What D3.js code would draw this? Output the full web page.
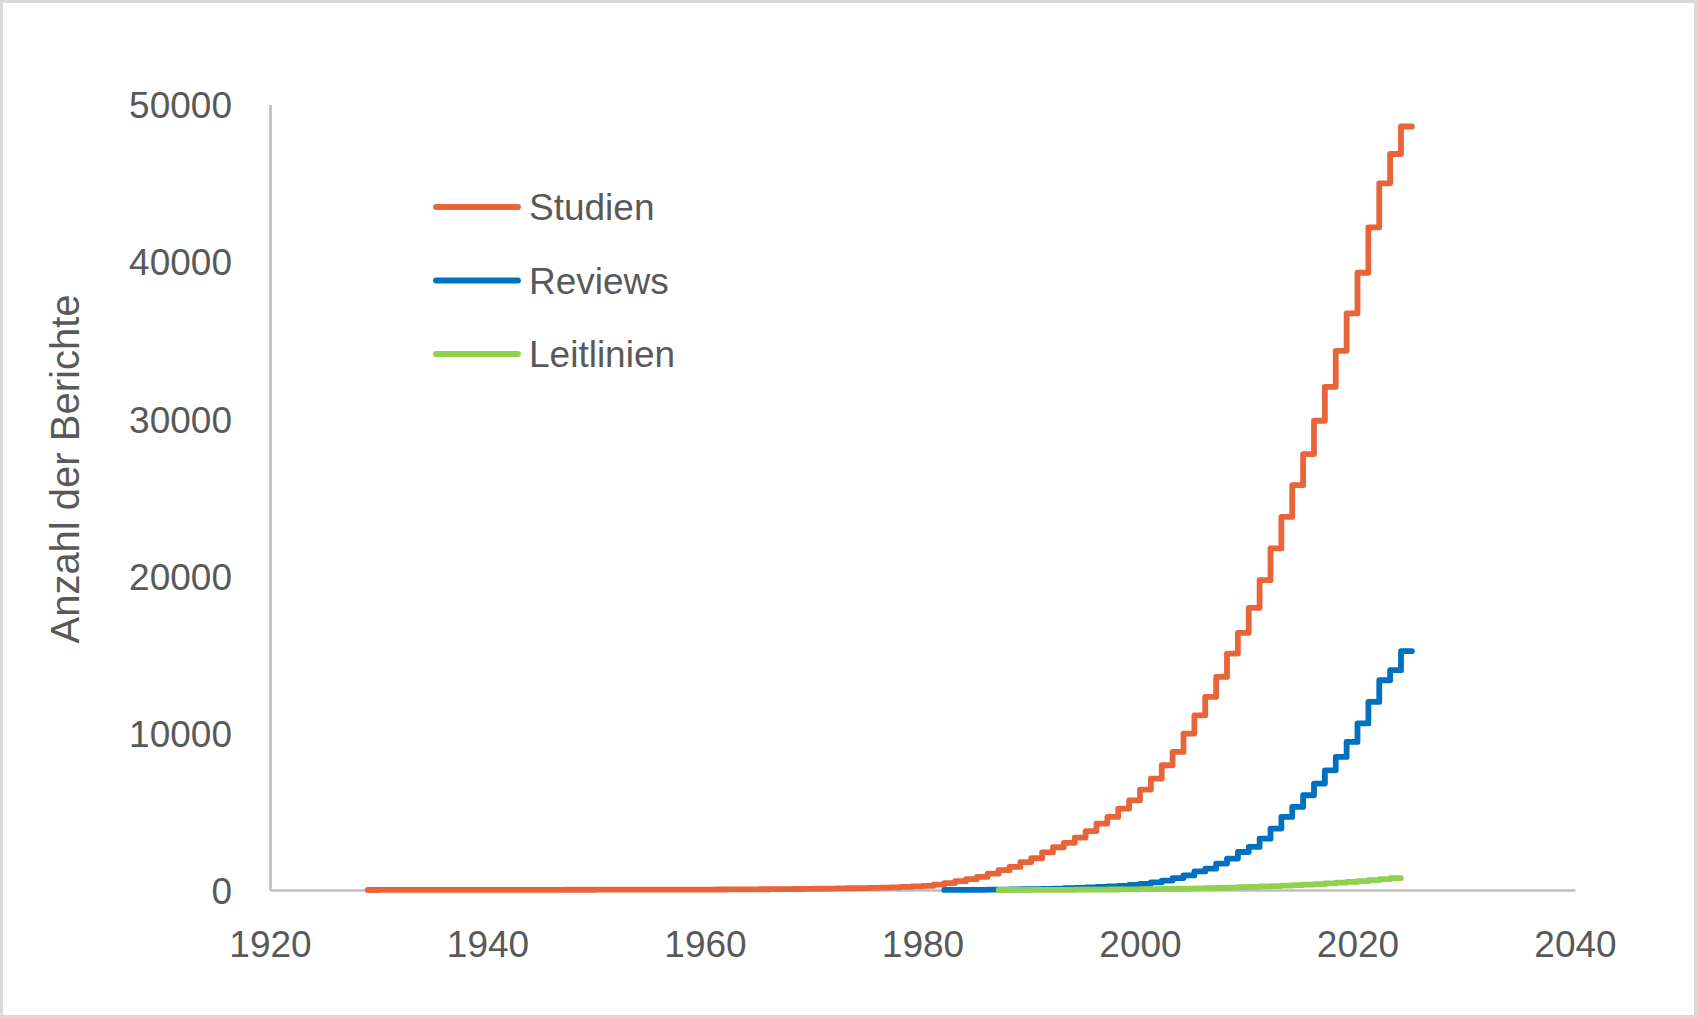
<!DOCTYPE html>
<html>
<head>
<meta charset="utf-8">
<script src="https://cdn.jsdelivr.net/npm/d3@7"></script>
<style>
  html, body { margin: 0; padding: 0; background: #fff; }
  svg { display: block; }
  text { font-family: "Liberation Sans", Arial, sans-serif; fill: #595959; }
</style>
</head>
<body>
<svg id="chart" width="1697" height="1018"></svg>
<script>
// ---- Data (cumulative number of reports per year) ----
const studienYears = [1929,1930,1931,1932,1933,1934,1935,1936,1937,1938,1939,
  1940,1941,1942,1943,1944,1945,1946,1947,1948,1949,
  1950,1951,1952,1953,1954,1955,1956,1957,1958,1959,
  1960,1961,1962,1963,1964,1965,1966,1967,1968,1969,
  1970,1971,1972,1973,1974,1975,1976,1977,1978,1979,
  1980,1981,1982,1983,1984,1985,1986,1987,1988,1989,
  1990,1991,1992,1993,1994,1995,1996,1997,1998,1999,
  2000,2001,2002,2003,2004,2005,2006,2007,2008,2009,
  2010,2011,2012,2013,2014,2015,2016,2017,2018,2019,
  2020,2021,2022,2023,2024];
const studienValues = [1,2,2,3,4,4,5,6,6,7,8,
  9,9,10,11,12,13,14,15,16,17,
  18,19,20,21,22,23,24,25,27,28,
  30,33,36,40,44,48,53,58,64,71,
  79,88,98,110,118,130,150,170,195,225,
  260,340,440,560,690,840,1040,1260,1470,1780,
  2020,2400,2720,3000,3340,3750,4230,4650,5180,5710,
  6390,7090,7940,8790,9960,11120,12290,13560,15050,16370,
  17960,19720,21740,23750,25770,27750,29870,32030,34320,36700,
  39290,42180,44980,46850,48600];

const reviewsYears = [1982,1983,1984,1985,1986,1987,1988,1989,1990,1991,
  1992,1993,1994,1995,1996,1997,1998,1999,2000,2001,
  2002,2003,2004,2005,2006,2007,2008,2009,2010,2011,
  2012,2013,2014,2015,2016,2017,2018,2019,2020,2021,
  2022,2023,2024];
const reviewsValues = [2,5,9,14,20,28,37,48,60,75,
  92,112,135,160,190,225,265,320,390,480,
  600,760,930,1180,1360,1680,2000,2420,2740,3270,
  3910,4650,5285,6030,6775,7620,8470,9425,10600,11970,
  13350,13990,15200];

const leitlinienYears = [1987,1988,1989,1990,1991,1992,1993,1994,1995,1996,
  1997,1998,1999,2000,2001,2002,2003,2004,2005,2006,
  2007,2008,2009,2010,2011,2012,2013,2014,2015,2016,
  2017,2018,2019,2020,2021,2022,2023];
const leitlinienValues = [1,2,4,6,8,11,14,18,22,27,
  32,38,45,52,60,70,80,92,105,120,
  137,156,177,200,225,252,281,312,345,380,
  420,465,515,570,625,690,760];

const seriesNames = ["Studien", "Reviews", "Leitlinien"];
const seriesColors = ["#E8653A", "#0070C0", "#92D050"];

const xTicks = [1920, 1940, 1960, 1980, 2000, 2020, 2040];
const yTicks = [0, 10000, 20000, 30000, 40000, 50000];
const yTitle = "Anzahl der Berichte";

// ---- Layout ----
const W = 1697, H = 1018;
const svg = d3.select("#chart");

svg.append("rect")
  .attr("x", 1.5).attr("y", 1.5)
  .attr("width", W - 3).attr("height", H - 3)
  .attr("fill", "#fff").attr("stroke", "#D9D9D9").attr("stroke-width", 3);

const x = d3.scaleLinear().domain([1920, 2040]).range([270, 1575]);
const y = d3.scaleLinear().domain([0, 50000]).range([890, 104.5]);

// axes
const axisColor = "#BFBFBF";
const yAxis = d3.axisLeft(y).tickValues(yTicks).tickSize(0).tickPadding(38).tickFormat(d3.format("d"));
const xAxis = d3.axisBottom(x).tickValues(xTicks).tickSize(0).tickPadding(40).tickFormat(d3.format("d"));

const gy = svg.append("g").attr("transform", `translate(${x(1920)},0)`).call(yAxis);
const gx = svg.append("g").attr("transform", `translate(0,${y(0)})`).call(xAxis);
[gy, gx].forEach(g => {
  g.select(".domain").attr("stroke", axisColor).attr("stroke-width", 2.7);
  g.selectAll("text")
    .attr("font-family", '"Liberation Sans", Arial, sans-serif')
    .attr("font-size", 37)
    .attr("fill", "#595959");
});
gy.selectAll("text").attr("dy", "0.36em");
gx.selectAll("text").attr("dy", "0.72em");

// y title
svg.append("text")
  .attr("transform", `translate(65,469) rotate(-90)`)
  .attr("text-anchor", "middle")
  .attr("dy", "0.36em")
  .attr("font-size", 40)
  .text(yTitle);

// ---- Lines ----
const seriesData = [
  [studienYears, studienValues],
  [reviewsYears, reviewsValues],
  [leitlinienYears, leitlinienValues]
].map(([yrs, vals]) => {
  const pts = yrs.map((yr, i) => ({ year: yr, value: vals[i] }));
  // hold the final value through the end of its year
  pts.push({ year: yrs[yrs.length - 1] + 1, value: vals[vals.length - 1] });
  return pts;
});

const line = d3.line()
  .x(d => x(d.year))
  .y(d => y(d.value))
  .curve(d3.curveStepAfter);

seriesData.forEach((pts, i) => {
  svg.append("path")
    .datum(pts)
    .attr("d", line)
    .attr("fill", "none")
    .attr("stroke", seriesColors[i])
    .attr("stroke-width", 5.8)
    .attr("stroke-linejoin", "round")
    .attr("stroke-linecap", "round");
});

// ---- Legend ----
const legendY = [207, 280.5, 354];
const leg = svg.append("g");
seriesNames.forEach((name, i) => {
  leg.append("line")
    .attr("x1", 436).attr("x2", 518)
    .attr("y1", legendY[i]).attr("y2", legendY[i])
    .attr("stroke", seriesColors[i])
    .attr("stroke-width", 5.8)
    .attr("stroke-linecap", "round");
  leg.append("text")
    .attr("x", 529)
    .attr("y", legendY[i])
    .attr("dy", "0.36em")
    .attr("font-size", 37)
    .text(name);
});
</script>
</body>
</html>
